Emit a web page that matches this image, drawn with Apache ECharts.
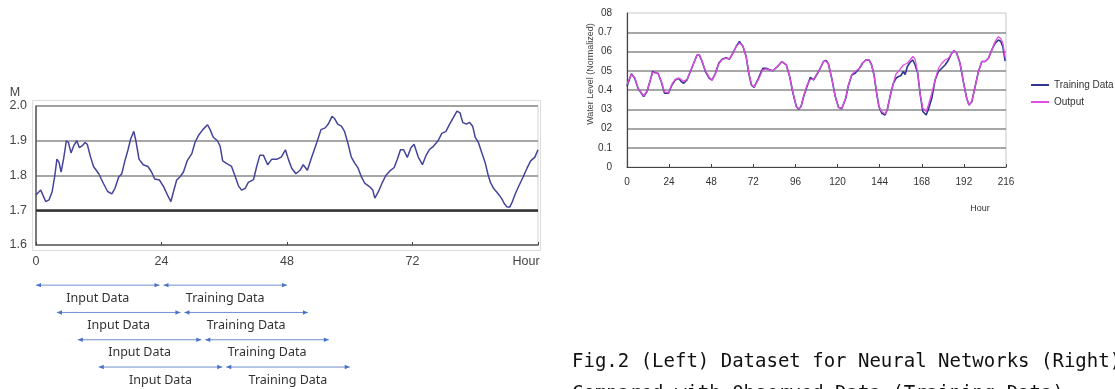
<!DOCTYPE html>
<html>
<head>
<meta charset="utf-8">
<title>Fig.2 Water Level</title>
<script src="https://cdn.jsdelivr.net/npm/echarts@6/dist/echarts.min.js"></script>
<style>
	html, body { margin: 0; padding: 0; background: #fff; }
	#main { width: 1115px; height: 389px; }
</style>
</head>
<body>
<div id="main"></div>
<script>
// 左图：观测水位 (M)
var leftHours = [0, 0.9, 1.85, 2.5, 3.1, 3.6, 4.0, 4.4, 4.8, 5.3, 5.8, 6.2, 6.7, 7.2, 7.8, 8.3, 8.8, 9.4, 9.8, 10.4,
	11.0, 12.0, 12.9, 13.7, 14.5, 15.1, 15.8, 16.4, 17.0, 17.6, 18.1, 18.7, 19.1, 19.7, 20.5, 21.4, 22.1, 22.7, 23.6, 24.4,
	25.3, 25.8, 26.3, 26.9, 27.6, 28.2, 28.9, 29.8, 30.4, 31.1, 31.9, 32.8, 33.3, 33.9, 34.7, 35.2, 35.7, 36.5, 37.4, 38.1,
	38.7, 39.3, 40.0, 40.6, 41.6, 42.2, 42.8, 43.5, 44.3, 45.1, 46.1, 46.9, 47.7, 48.3, 48.9, 49.7, 50.5, 51.1, 51.9, 52.7,
	53.7, 54.5, 55.3, 55.9, 56.6, 57.1, 57.7, 58.4, 59.0, 59.7, 60.3, 60.9, 61.6, 62.2, 62.9, 63.7, 64.4, 64.8, 65.5, 66.2,
	66.9, 67.8, 68.5, 69.1, 69.7, 70.3, 71.0, 71.7, 72.3, 73.1, 73.9, 74.6, 75.2, 76.0, 76.9, 77.6, 78.4, 79.1, 79.7, 80.5,
	81.1, 81.6, 82.3, 82.9, 83.5, 84.0, 84.6, 85.3, 85.9, 86.4, 86.9, 87.5, 88.3, 89.0, 89.6, 90.1, 90.6, 91.1, 91.7, 92.4,
	93.2, 93.9, 94.6, 95.4, 96.0];
var leftLevel = [1.744, 1.758, 1.725, 1.73, 1.754, 1.80, 1.847, 1.838, 1.81, 1.85, 1.90, 1.895, 1.865, 1.885, 1.90, 1.88, 1.885, 1.895, 1.89, 1.855,
	1.826, 1.805, 1.777, 1.754, 1.747, 1.763, 1.795, 1.805, 1.842, 1.874, 1.905, 1.927, 1.90, 1.847, 1.831, 1.826, 1.81, 1.79, 1.787, 1.768,
	1.739, 1.725, 1.754, 1.787, 1.797, 1.81, 1.842, 1.863, 1.895, 1.916, 1.932, 1.946, 1.932, 1.91, 1.90, 1.885, 1.842, 1.834, 1.826, 1.797,
	1.771, 1.758, 1.763, 1.78, 1.788, 1.826, 1.858, 1.858, 1.831, 1.847, 1.847, 1.853, 1.874, 1.845, 1.821, 1.805, 1.815, 1.831, 1.815, 1.852,
	1.895, 1.932, 1.937, 1.948, 1.97, 1.964, 1.948, 1.942, 1.927, 1.89, 1.853, 1.837, 1.821, 1.797, 1.777, 1.769, 1.758, 1.735, 1.754, 1.779,
	1.80, 1.815, 1.823, 1.847, 1.874, 1.874, 1.852, 1.88, 1.89, 1.853, 1.831, 1.858, 1.874, 1.884, 1.90, 1.921, 1.927, 1.948, 1.964, 1.985,
	1.98, 1.953, 1.948, 1.953, 1.942, 1.91, 1.895, 1.863, 1.837, 1.805, 1.78, 1.763, 1.749, 1.735, 1.718, 1.709, 1.709, 1.725, 1.749, 1.772,
	1.797, 1.821, 1.842, 1.853, 1.874];
var leftThreshold = 1.7;

// 右图：训练数据与网络输出 (归一化)
var rightHours = [0, 2.5, 4.4, 6.3, 8.2, 9.5, 11.4, 13.3, 14.6, 16.1,
	17.7, 19.5, 21.4, 23.7, 25.6, 27.5, 29.4, 30.9, 32.3, 34.2,
	36.1, 38.0, 39.9, 41.2, 42.8, 44.7, 46.9, 48.5, 50.4, 52.3,
	54.2, 56.5, 58.4, 60.3, 62.2, 64.1, 66.0, 67.9, 69.4, 70.9,
	72.4, 74.9, 77.4, 79.3, 81.2, 83.1, 85.8, 88.3, 89.2, 90.8,
	92.7, 94.6, 96.5, 97.8, 99.2, 100.7, 102.6, 104.5, 106.3, 109.2,
	112.0, 113.5, 114.8, 116.7, 118.6, 120.5, 122.4, 124.7, 126.0, 128.1,
	130.0, 132.5, 134.2, 136.1, 138.0, 139.4, 140.8, 142.3, 143.6, 145.2,
	147.1, 148.4, 149.9, 151.8, 153.3, 154.7, 156.0, 157.5, 158.5, 159.8,
	161.3, 162.9, 164.2, 165.7, 167.0, 168.6, 170.5, 171.8, 173.7, 175.6,
	177.5, 179.4, 181.3, 183.2, 185.1, 186.4, 187.9, 189.8, 191.7, 193.6,
	194.9, 196.5, 198.4, 200.3, 202.2, 204.1, 206.0, 207.9, 209.8, 211.7,
	213.0, 214.2, 215.5];
var trainingData = [0.42, 0.484, 0.461, 0.409, 0.383, 0.366, 0.392, 0.452, 0.496, 0.49,
	0.487, 0.444, 0.383, 0.383, 0.426, 0.452, 0.461, 0.444, 0.435, 0.452,
	0.496, 0.539, 0.582, 0.582, 0.548, 0.496, 0.461, 0.452, 0.487, 0.539,
	0.56, 0.568, 0.56, 0.591, 0.626, 0.652, 0.628, 0.574, 0.487, 0.426,
	0.414, 0.461, 0.513, 0.513, 0.505, 0.5, 0.522, 0.548, 0.556, 0.53,
	0.47, 0.383, 0.314, 0.3, 0.314, 0.366, 0.418, 0.466, 0.452, 0.496,
	0.548, 0.553, 0.535, 0.46, 0.37, 0.31, 0.303, 0.357, 0.418, 0.478,
	0.487, 0.513, 0.539, 0.556, 0.556, 0.53, 0.478, 0.383, 0.313, 0.279,
	0.27, 0.3, 0.366, 0.435, 0.461, 0.47, 0.474, 0.496, 0.48, 0.522,
	0.543, 0.556, 0.53, 0.487, 0.383, 0.288, 0.27, 0.3, 0.357, 0.452,
	0.496, 0.513, 0.53, 0.556, 0.591, 0.605, 0.591, 0.539, 0.443, 0.357,
	0.322, 0.339, 0.418, 0.496, 0.548, 0.548, 0.565, 0.608, 0.643, 0.66,
	0.652, 0.625, 0.55];
var outputData = [0.43, 0.48, 0.465, 0.41, 0.385, 0.37, 0.395, 0.45, 0.49, 0.495,
	0.485, 0.445, 0.39, 0.385, 0.43, 0.455, 0.462, 0.455, 0.445, 0.455,
	0.496, 0.539, 0.58, 0.585, 0.55, 0.5, 0.465, 0.45, 0.485, 0.535,
	0.558, 0.565, 0.562, 0.59, 0.625, 0.645, 0.63, 0.575, 0.49, 0.43,
	0.415, 0.455, 0.505, 0.51, 0.505, 0.5, 0.522, 0.548, 0.556, 0.53,
	0.47, 0.385, 0.315, 0.302, 0.315, 0.37, 0.425, 0.455, 0.455, 0.496,
	0.548, 0.55, 0.535, 0.46, 0.37, 0.31, 0.305, 0.36, 0.42, 0.48,
	0.496, 0.513, 0.539, 0.556, 0.556, 0.53, 0.478, 0.383, 0.313, 0.288,
	0.275, 0.3, 0.366, 0.435, 0.483, 0.496, 0.513, 0.53, 0.532, 0.539,
	0.556, 0.574, 0.56, 0.487, 0.383, 0.305, 0.288, 0.322, 0.383, 0.452,
	0.513, 0.539, 0.556, 0.565, 0.591, 0.605, 0.591, 0.539, 0.443, 0.357,
	0.322, 0.339, 0.418, 0.496, 0.548, 0.548, 0.565, 0.608, 0.652, 0.677,
	0.668, 0.643, 0.57];
// 右图纵轴刻度文字（按原图）
var rightTickLabels = ['0', '0.1', '02', '03', '0.4', '05', '06', '0.7', '08'];
var legendNames = ['Training Data', 'Output'];

// 滑动窗口：[行, 起点, 分界, 终点] (小时)
var windowRows = [[0, 0, 24, 48], [1, 4, 28, 52], [2, 8, 32, 56], [3, 12, 36, 60]];
var windowNames = ['Input Data', 'Training Data'];

var captionLines = [
	'Fig.2 (Left) Dataset for Neural Networks (Right) Output of Neural Networks',
	'Compared with Observed Data (Training Data)'
];

var WaterChart = {

	init: function () {
		this.chart = echarts.init(document.getElementById('main'));
		this.chart.setOption(this.buildOption());
	},

	pairs: function (xs, ys) {
		var out = [];
		for (var i = 0; i < xs.length; i++) {
			out.push([xs[i], ys[i]]);
		}
		return out;
	},

	// 画一行双向箭头 + 文字
	renderWindow: function (params, api) {
		var row = api.value(0);
		var p0 = api.coord([api.value(1), row + 0.5]);
		var p1 = api.coord([api.value(2), row + 0.5]);
		var p2 = api.coord([api.value(3), row + 0.5]);
		var y = p0[1];
		var blue = '#4a72c2';
		var lineStyle = { stroke: '#6f8fd0', lineWidth: 1 };
		var a = p1[0] - 2, b = p1[0] + 2;
		function head(x, dir) {
			return {
				type: 'polygon',
				shape: { points: [[x, y], [x - dir * 5, y - 2.2], [x - dir * 5, y + 2.2]] },
				style: { fill: blue }
			};
		}
		function label(x, text) {
			return {
				type: 'text',
				style: {
					x: x, y: y + 13, text: text, align: 'center', verticalAlign: 'middle',
					fill: '#333', font: '12.5px "Noto Sans", sans-serif'
				}
			};
		}
		return {
			type: 'group',
			children: [
				{ type: 'line', shape: { x1: p0[0], y1: y, x2: a, y2: y }, style: lineStyle },
				{ type: 'line', shape: { x1: b, y1: y, x2: p2[0], y2: y }, style: lineStyle },
				head(p0[0], -1), head(a, 1), head(b, -1), head(p2[0], 1),
				label((p0[0] + a) / 2, windowNames[0]),
				label((b + p2[0]) / 2, windowNames[1])
			]
		};
	},

	buildOption: function () {
		var _self = this;
		var axisFont = 'Liberation Sans';
		return {
			animation: false,
			backgroundColor: '#fff',
			textStyle: { fontFamily: axisFont },
			legend: {
				orient: 'vertical',
				left: 1026,
				top: 75,
				itemWidth: 18,
				itemHeight: 2,
				itemGap: 7,
				icon: 'rect',
				data: legendNames,
				textStyle: { fontSize: 10, color: '#333', fontFamily: axisFont }
			},
			grid: [
				{ left: 36, top: 106, width: 502, height: 139, show: true, borderColor: '#d2d2d2', borderWidth: 1 },
				{ left: 627, top: 13, width: 379, height: 154, show: true, borderColor: '#c8c8c8', borderWidth: 1 },
				{ left: 36, top: 271.5, width: 502, height: 109.2 }
			],
			xAxis: [
				{
					type: 'value', gridIndex: 0, min: 0, max: 96, interval: 24,
					axisLine: { lineStyle: { color: '#555', width: 1.5 } },
					axisTick: { inside: true, length: 3, lineStyle: { color: '#444' } },
					splitLine: { show: false },
					axisLabel: {
						margin: 10, fontSize: 12.5, color: '#444',
						formatter: function (v) { return v === 96 ? '{h|Hour}' : String(v); },
						rich: { h: { fontSize: 12.5, color: '#444', padding: [0, 24, 0, 0] } }
					}
				},
				{
					type: 'value', gridIndex: 1, min: 0, max: 216, interval: 24,
					axisLine: { lineStyle: { color: '#444', width: 1.2 } },
					axisTick: { inside: true, length: 3, lineStyle: { color: '#444' } },
					splitLine: { show: false },
					axisLabel: { margin: 10, fontSize: 10, color: '#333' }
				},
				{ type: 'value', gridIndex: 2, min: 0, max: 96, show: false }
			],
			yAxis: [
				{
					type: 'value', gridIndex: 0, min: 1.6, max: 2.0, interval: 0.1,
					axisLine: { show: true, lineStyle: { color: '#555', width: 1.5 } },
					axisTick: { show: false },
					splitLine: { showMinLine: false, lineStyle: { color: '#8a8a8a', width: 1.5 } },
					axisLabel: {
						margin: 9, fontSize: 12.5, color: '#444',
						formatter: function (v) { return v.toFixed(1); }
					}
				},
				{
					type: 'value', gridIndex: 1, min: 0, max: 0.8, interval: 0.1,
					axisLine: { show: true, lineStyle: { color: '#444', width: 1.2 } },
					axisTick: { show: false },
					splitLine: { showMinLine: false, showMaxLine: false, lineStyle: { color: '#8a8a8a', width: 1.5 } },
					axisLabel: {
						margin: 15, fontSize: 10, color: '#333',
						formatter: function (v) { return rightTickLabels[Math.round(v * 10)]; }
					}
				},
				{ type: 'value', gridIndex: 2, min: 0, max: 4, inverse: true, show: false }
			],
			series: [
				{
					name: 'Water Level',
					type: 'line',
					xAxisIndex: 0, yAxisIndex: 0,
					showSymbol: false,
					lineStyle: { color: '#44449a', width: 1.5 },
					data: _self.pairs(leftHours, leftLevel),
					markLine: {
						silent: true, symbol: 'none', label: { show: false },
						lineStyle: { color: '#333', width: 2.5, type: 'solid' },
						data: [{ yAxis: leftThreshold }]
					}
				},
				{
					name: legendNames[0],
					type: 'line',
					xAxisIndex: 1, yAxisIndex: 1,
					showSymbol: false,
					color: '#2f3590',
					lineStyle: { color: '#2f3590', width: 1.6 },
					data: _self.pairs(rightHours, trainingData)
				},
				{
					name: legendNames[1],
					type: 'line',
					xAxisIndex: 1, yAxisIndex: 1,
					showSymbol: false,
					color: '#e04ee0',
					lineStyle: { color: '#e04ee0', width: 1.3 },
					data: _self.pairs(rightHours, outputData)
				},
				{
					type: 'custom',
					xAxisIndex: 2, yAxisIndex: 2,
					silent: true,
					renderItem: function (params, api) { return _self.renderWindow(params, api); },
					data: windowRows
				}
			],
			graphic: [
				{
					type: 'rect', silent: true, z: -1,
					shape: { x: 32.5, y: 100.5, width: 508, height: 150 },
					style: { fill: 'none', stroke: '#dcdcdc', lineWidth: 1 }
				},
				{
					type: 'text', x: 15, y: 93,
					style: { text: 'M', align: 'center', verticalAlign: 'middle', fill: '#444', font: '12.5px "Liberation Sans"' }
				},
				{
					type: 'text', x: 980, y: 209,
					style: { text: 'Hour', align: 'center', verticalAlign: 'middle', fill: '#333', font: '9px "Liberation Sans"' }
				},
				{
					type: 'text', x: 591, y: 74, rotation: Math.PI / 2,
					style: { text: 'Water Level (Normalized)', align: 'center', verticalAlign: 'middle', fill: '#444', font: '9px "Liberation Sans"' }
				},
				{
					type: 'text', x: 572, y: 353,
					style: { text: captionLines[0], align: 'left', verticalAlign: 'top', fill: '#111', font: '19px "DejaVu Sans Mono"' }
				},
				{
					type: 'text', x: 572, y: 385,
					style: { text: captionLines[1], align: 'left', verticalAlign: 'top', fill: '#111', font: '19px "DejaVu Sans Mono"' }
				}
			]
		};
	}
};

WaterChart.init();
</script>
</body>
</html>
